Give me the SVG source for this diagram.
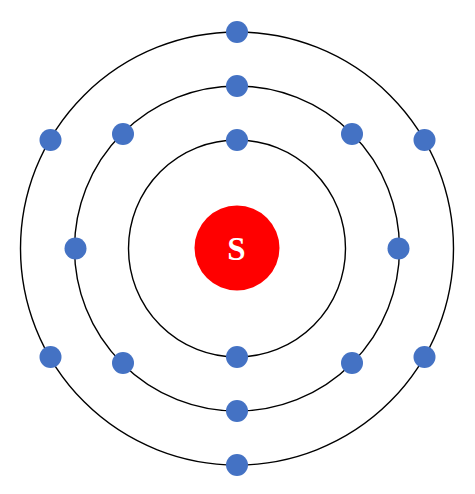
<svg xmlns="http://www.w3.org/2000/svg" width="475" height="494" viewBox="0 0 475 494">
<style>
.shell{fill:none;stroke:#000;stroke-width:1.4}
.e{fill:#4472C4}
</style>
<rect width="475" height="494" fill="#fff"/>
<g id="shells">
<circle class="shell" cx="237" cy="248.5" r="108.5"/>
<circle class="shell" cx="237" cy="248.5" r="162.5"/>
<circle class="shell" cx="237" cy="248.5" r="216.5"/>
</g>
<g id="nucleus">
<circle cx="237" cy="248" r="42.5" fill="#FF0000"/>
<text x="236.5" y="260" text-anchor="middle" font-family="Liberation Serif, serif" font-weight="bold" font-size="33" fill="#fff">S</text>
</g>
<g id="shell1-electrons">
<circle class="e" cx="237" cy="140" r="11"/>
<circle class="e" cx="237" cy="357" r="11"/>
</g>
<g id="shell2-electrons">
<circle class="e" cx="237" cy="86" r="11"/>
<circle class="e" cx="237" cy="411" r="11"/>
<circle class="e" cx="75.5" cy="248.5" r="11"/>
<circle class="e" cx="398.5" cy="248.5" r="11"/>
<circle class="e" cx="123" cy="134" r="11"/>
<circle class="e" cx="352" cy="134" r="11"/>
<circle class="e" cx="123" cy="363" r="11"/>
<circle class="e" cx="352" cy="363" r="11"/>
</g>
<g id="shell3-electrons">
<circle class="e" cx="237" cy="32" r="11"/>
<circle class="e" cx="237" cy="465" r="11"/>
<circle class="e" cx="50.5" cy="140" r="11"/>
<circle class="e" cx="424.5" cy="140" r="11"/>
<circle class="e" cx="50.5" cy="357" r="11"/>
<circle class="e" cx="424.5" cy="357" r="11"/>
</g>
</svg>
